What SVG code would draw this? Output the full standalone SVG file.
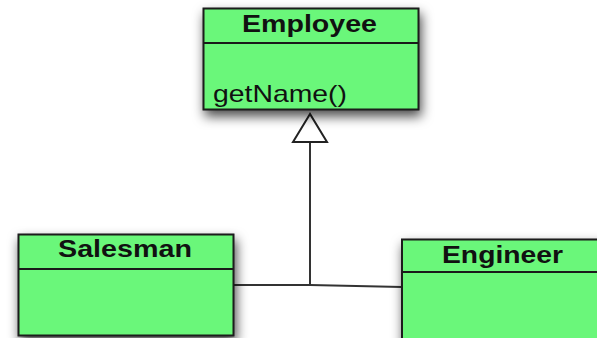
<svg xmlns="http://www.w3.org/2000/svg" width="597" height="338" viewBox="0 0 597 338">
  <style>
    .box { fill: #6af77a; stroke: #1a1a1a; stroke-width: 2; }
    .div { stroke: #1a1a1a; stroke-width: 2; }
    .title { font-family: "Liberation Sans", Arial, sans-serif; font-weight: bold; font-size: 24px; fill: #111; }
    .op { font-family: "Liberation Sans", Arial, sans-serif; font-size: 24px; fill: #111; }
    .conn { fill: none; stroke: #333; stroke-width: 2; }
  </style>
  <defs>
    <filter id="shadow" x="-20%" y="-20%" width="150%" height="160%">
      <feDropShadow dx="2" dy="6" stdDeviation="6" flood-color="#000" flood-opacity="0.7"/>
    </filter>
    <marker id="inherit" markerUnits="userSpaceOnUse" viewBox="-2 -19 32 38" markerWidth="32" markerHeight="38" refX="28" refY="0" orient="auto-start-reverse" overflow="visible">
      <path d="M28,0 L0,-17 L0,17 Z" fill="#fff" stroke="#222" stroke-width="2" stroke-linejoin="miter"/>
    </marker>
  </defs>

  <g id="connectors">
    <path class="conn" d="M310,114 L310,285" marker-start="url(#inherit)"/>
    <path class="conn" d="M234,285 L310,285 L402,287"/>
  </g>

  <g id="employee">
    <rect class="box" x="203.5" y="8.5" width="215" height="101" filter="url(#shadow)"/>
    <line class="div" x1="203.5" y1="43" x2="418.5" y2="43"/>
    <text class="title" x="242" y="32" textLength="135" lengthAdjust="spacingAndGlyphs">Employee</text>
    <text class="op" x="213" y="102" textLength="134" lengthAdjust="spacingAndGlyphs">getName()</text>
  </g>

  <g id="salesman">
    <rect class="box" x="18.5" y="234.5" width="215" height="101" filter="url(#shadow)"/>
    <line class="div" x1="18.5" y1="269" x2="233.5" y2="269"/>
    <text class="title" x="58" y="256.5" textLength="134" lengthAdjust="spacingAndGlyphs">Salesman</text>
  </g>

  <g id="engineer">
    <rect class="box" x="402" y="239.5" width="220" height="110" filter="url(#shadow)"/>
    <line class="div" x1="402" y1="272" x2="622" y2="272"/>
    <text class="title" x="442" y="263" textLength="121" lengthAdjust="spacingAndGlyphs">Engineer</text>
  </g>
</svg>
